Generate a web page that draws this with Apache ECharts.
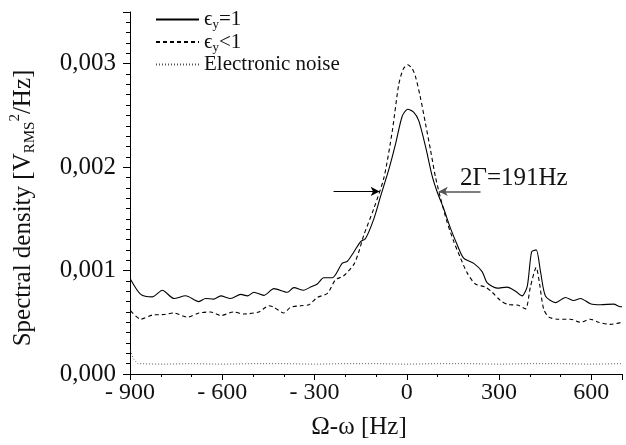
<!DOCTYPE html>
<html>
<head>
<meta charset="utf-8">
<script src="https://cdn.jsdelivr.net/npm/echarts@6/dist/echarts.min.js"></script>
<style>html,body{margin:0;padding:0;background:#fff}#c{width:626px;height:445px}</style>
</head>
<body>
<div id="c"></div>
<script>
// Ω-ω [Hz] and spectral density values
const solidHz = [-898,-865,-827,-795,-757,-719,-676,-654,-628,-605,-573,-540,-518,-497,-465,-432,-388,-367,-335,-313,-291,-270,-242,-210,-193,-172,-150,-134,-107,-85,-58,-36,-15,3,23,39,61,83,99,120,142,164,185,218,245,262,294,326,354,375,392,406,421,435,451,484,516,543,565,597,630,673,695,700];
const solidVal = [0.000914,0.00077,0.000746,0.00081,0.00073,0.000756,0.0007,0.00073,0.000724,0.000755,0.00073,0.00077,0.000755,0.00079,0.00076,0.000825,0.00079,0.000835,0.00081,0.00084,0.00087,0.00093,0.00093,0.00107,0.00109,0.00118,0.00128,0.00131,0.0015,0.00172,0.00198,0.00223,0.00249,0.00256,0.00253,0.00245,0.0022,0.00191,0.00176,0.0016,0.00141,0.00125,0.00112,0.00107,0.00099,0.00088,0.00083,0.00084,0.0008,0.000755,0.00085,0.00118,0.0012,0.00099,0.000755,0.00069,0.00074,0.00071,0.00073,0.00068,0.00067,0.000676,0.00065,0.00065];
const dashHz = [-898,-865,-827,-789,-757,-713,-676,-638,-605,-562,-530,-481,-448,-432,-400,-378,-345,-318,-291,-258,-232,-205,-172,-156,-140,-107,-74,-47,-26,-11,3,18,28,44,61,77,93,110,131,153,175,196,223,256,278,305,332,359,386,402,421,432,445,462,494,532,565,597,624,662,700];
const dashVal = [0.00061,0.00053,0.00057,0.000575,0.00059,0.00055,0.00059,0.0006,0.000565,0.0006,0.00058,0.0006,0.00066,0.000645,0.00059,0.000645,0.00066,0.00067,0.00074,0.00078,0.00091,0.00095,0.00106,0.00118,0.00134,0.0016,0.0019,0.00235,0.0028,0.00295,0.00299,0.00295,0.00288,0.00268,0.00242,0.00217,0.00191,0.0017,0.00147,0.00128,0.00112,0.00098,0.00087,0.00084,0.00079,0.00071,0.00067,0.000667,0.00063,0.00084,0.00103,0.00087,0.00063,0.00055,0.00053,0.00053,0.0005,0.00053,0.0005,0.00048,0.0005];
const noiseHz = [-898,-890,-875,-800,-700,-600,-500,-400,-300,-200,-100,0,100,200,300,400,500,600,700];
const noiseVal = [0.00023,0.00015,0.0001,0.000095,0.0001,0.000095,0.0001,0.0001,0.000095,0.0001,0.0001,0.000095,0.0001,0.0001,0.000095,0.0001,0.0001,0.000095,0.0001];
const xTicks = [-900,-600,-300,0,300,600];
const yTicks = [0,0.001,0.002,0.003];
const widthLeft = [-238, -88];
const widthRight = [240, 104];
const widthLevel = 0.001765;
const seriesNames = ['e1','e2','noise'];

const zip = (a,b) => a.map((v,i)=>[v,b[i]]);
const FONT = '"Liberation Serif","Times New Roman",serif';
const chart = echarts.init(document.getElementById('c'), null, {renderer:'canvas'});

const legendLabels = {
  e1: '{e|ϵ}{s|y}{e|=1}',
  e2: '{e|ϵ}{s|y}{e|<1}',
  noise: '{e|Electronic noise}'
};

chart.setOption({
  animation: false,
  backgroundColor: '#fff',
  grid: {left:129, right:4, top:12, bottom:64},
  legend: {
    orient: 'vertical', left: 150, top: 4,
    itemWidth: 43, itemHeight: 14, itemGap: 0,
    data: seriesNames,
    itemStyle: {opacity: 0},
    formatter: n => legendLabels[n],
    textStyle: {
      fontFamily: FONT, color:'#111',
      rich: {
        e: {fontFamily: FONT, fontSize: 21, lineHeight: 24, color:'#111'},
        s: {fontFamily: FONT, fontSize: 13, lineHeight: 13, verticalAlign:'bottom', color:'#111'}
      }
    }
  },
  xAxis: {
    type:'value', min:-900, max:700, interval:300,
    name: 'Ω-ω [Hz]', nameLocation:'middle', nameGap: 41,
    nameTextStyle: {fontFamily: FONT, fontSize: 25, color:'#111', padding:[0,34,0,0]},
    axisLine: {show:true, onZero:false, lineStyle:{color:'#000', width:1}},
    axisTick: {show:true, length:6, lineStyle:{color:'#000'}},
    minorTick: {show:true, splitNumber:3, length:3, lineStyle:{color:'#000'}},
    splitLine: {show:false},
    axisLabel: {
      fontFamily: FONT, fontSize: 24, color:'#111', margin: 7,
      formatter: v => xTicks.includes(v) ? (v < 0 ? '- ' + Math.abs(v) : String(v)) : ''
    }
  },
  yAxis: {
    type:'value', min:0, max:0.0035, interval:0.001,
    name: '{t|Spectral density [V}{sub|RMS}{sup|2}{t|/Hz]}',
    nameLocation:'middle', nameGap: 92, nameRotate: 90,
    nameTextStyle: {
      fontFamily: FONT, color:'#111', padding:[0,30,0,0],
      rich: {
        t: {fontFamily: FONT, fontSize: 25, lineHeight: 30, color:'#111'},
        sub: {fontFamily: FONT, fontSize: 15, lineHeight: 15, verticalAlign:'bottom', color:'#111'},
        sup: {fontFamily: FONT, fontSize: 15, lineHeight: 15, verticalAlign:'top', color:'#111'}
      }
    },
    axisLine: {show:true, onZero:false, lineStyle:{color:'#000', width:1}},
    axisTick: {show:true, length:7, lineStyle:{color:'#000'}},
    minorTick: {show:true, splitNumber:10, length:4, lineStyle:{color:'#000'}},
    splitLine: {show:false},
    axisLabel: {
      fontFamily: FONT, fontSize: 25, color:'#111', margin: 14, showMaxLabel:false,
      formatter: v => yTicks.some(t => Math.abs(t - v) < 1e-9) ? v.toFixed(3).replace('.', ',') : ''
    }
  },
  series: [
    {
      name:'e1', type:'line', data: zip(solidHz, solidVal), symbol:'none', smooth:0.25,
      lineStyle:{color:'#000', width:1.1, type:'solid'}, itemStyle:{color:'#000'},
      markLine: {
        silent:true, symbolSize:[7,9], label:{show:false},
        data: [
          [{coord:[widthLeft[0], widthLevel], symbol:'none', lineStyle:{color:'#000', width:1.2, type:'solid'}},
           {coord:[widthLeft[1], widthLevel], symbol:'arrow'}],
          [{coord:[widthRight[0], widthLevel], symbol:'none', lineStyle:{color:'#555', width:1.6, type:'solid'}},
           {coord:[widthRight[1], widthLevel], symbol:'arrow'}]
        ]
      }
    },
    {
      name:'e2', type:'line', data: zip(dashHz, dashVal), symbol:'none', smooth:0.25,
      lineStyle:{color:'#000', width:1.1, type:[4,3]}, itemStyle:{color:'#000'}
    },
    {
      name:'noise', type:'line', data: zip(noiseHz, noiseVal), symbol:'none',
      lineStyle:{color:'#555', width:1, type:[1,2]}, itemStyle:{color:'#555'}
    }
  ],
  graphic: [
    {type:'text', left:460, top:166, style:{text:'2Γ=191Hz', fontFamily: FONT, fontSize: 25, fill:'#111'}}
  ]
});
</script>
</body>
</html>
